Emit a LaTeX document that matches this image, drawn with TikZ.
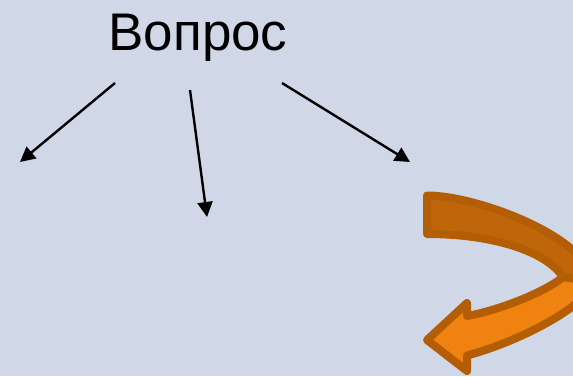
\documentclass[tikz,border=0pt]{standalone}
\usepackage{fontspec}
\setmainfont{Liberation Sans}
\usepackage{tikz}
\usetikzlibrary{arrows.meta}
\definecolor{slidebg}{HTML}{D0D8E8}
\definecolor{turnedge}{HTML}{B35E04}
\definecolor{turnback}{HTML}{C0660A}
\definecolor{turnfront}{HTML}{F0820F}

\begin{document}
\begin{tikzpicture}[x=1pt, y=-1pt,
	pointer/.style={-{Triangle[length=15pt,width=15pt]}, line width=2.4pt},
	turnband/.style={draw=turnedge, line width=8pt, line join=round}]
\fill[slidebg] (0,0) rectangle (573,376);
\useasboundingbox (0,0) rectangle (573,376);
\clip (0,0) rectangle (573,376);

\node[anchor=base, inner sep=0pt, font=\fontsize{53}{60}\selectfont] (q) at (198,50) {Вопрос};

\coordinate (l0) at (115,83);
\coordinate (l1) at (20,162);
\coordinate (m0) at (190,90);
\coordinate (m1) at (207,217);
\coordinate (r0) at (282,83);
\coordinate (r1) at (410,162);
\path[pointer]
(l0) edge (l1)
(m0) edge (m1)
(r0) edge (r1)
;

% curved arrow, back part first
\draw[turnband, fill=turnback] (427,234) -- (427,195.5)
	.. controls (480,195.5) and (592,240) .. (592,282)
	-- (563,277)
	.. controls (545,250) and (490,234) .. (427,234) -- cycle;
\draw[turnband, fill=turnfront] (563,277)
	.. controls (545,292) and (500,310) .. (467,316)
	-- (467,303) -- (427,340) -- (467,371) -- (467,355.5)
	.. controls (525,340) and (592,302) .. (592,282) -- cycle;
\end{tikzpicture}
\end{document}
